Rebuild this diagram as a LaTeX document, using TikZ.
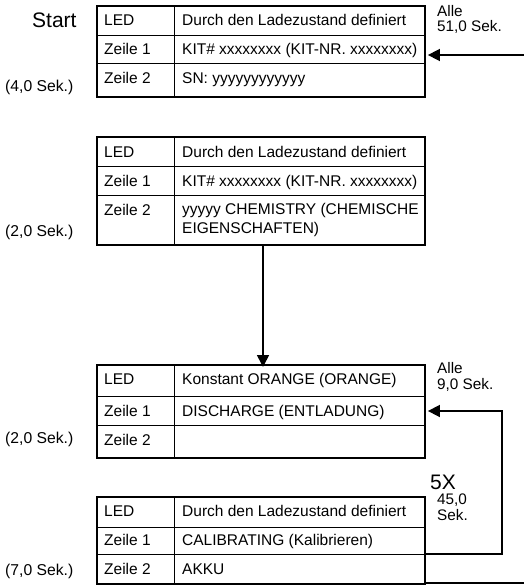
\documentclass[tikz,border=0pt]{standalone}
\usepackage{fontspec}
\setmainfont{Liberation Sans}
\usetikzlibrary{arrows.meta}
\begin{document}
\begin{tikzpicture}[x=1pt,y=-1pt,
  cellL/.style={draw,line width=0.9pt,anchor=north west,inner sep=0pt,minimum width=77pt},
  cellR/.style={draw,line width=0.9pt,anchor=north west,inner sep=0pt,minimum width=250pt},
  txt/.style={anchor=base west,inner sep=0pt,font=\fontsize{15.5}{18.5}\selectfont},
  side/.style={anchor=base west,inner sep=0pt,font=\fontsize{15.7}{18}\selectfont},
  small/.style={anchor=base west,inner sep=0pt,align=left,font=\fontsize{15.3}{15.5}\selectfont},
  big/.style={anchor=base west,inner sep=0pt,font=\fontsize{21}{22}\selectfont},
  frame/.style={line width=1.8pt},
  conn/.style={line width=1.6pt},
  arr/.style={conn,-{Triangle[length=12pt,width=12pt]}}]
\useasboundingbox (0,0) rectangle (524,586);
% table 1
\node[cellL,minimum height=29pt] (t1l1) at (97,6) {};
\node[cellR,minimum height=29pt] (t1r1) at (174,6) {};
\node[cellL,minimum height=28pt] (t1l2) at (97,35) {};
\node[cellR,minimum height=28pt] (t1r2) at (174,35) {};
\node[cellL,minimum height=33pt] (t1l3) at (97,63) {};
\node[cellR,minimum height=33pt] (t1r3) at (174,63) {};
\draw[frame] (t1l1.north west) rectangle (t1r3.south east);
\node[txt] (x1a) at (104,26) {LED};
\node[txt] (x1b) at (182,26) {Durch den Ladezustand definiert};
\node[txt] (x1c) at (104,55) {Zeile 1};
\node[txt] (x1d) at (182,55) {KIT\# xxxxxxxx (KIT-NR. xxxxxxxx)};
\node[txt] (x1e) at (104,84) {Zeile 2};
\node[txt] (x1f) at (182,84) {SN: yyyyyyyyyyyy};
\node[big] (start) at (32,28) {Start};
\node[side] (s1) at (5,91) {(4,0 Sek.)};
\node[small] (a1) at (437,32) {Alle\\51,0 Sek.};
% table 2
\node[cellL,minimum height=29pt] (t2l1) at (97,137) {};
\node[cellR,minimum height=29pt] (t2r1) at (174,137) {};
\node[cellL,minimum height=29pt] (t2l2) at (97,166) {};
\node[cellR,minimum height=29pt] (t2r2) at (174,166) {};
\node[cellL,minimum height=49pt] (t2l3) at (97,195) {};
\node[cellR,minimum height=49pt] (t2r3) at (174,195) {};
\draw[frame] (t2l1.north west) rectangle (t2r3.south east);
\node[txt] (x2a) at (104,157) {LED};
\node[txt] (x2b) at (182,157) {Durch den Ladezustand definiert};
\node[txt] (x2c) at (104,186) {Zeile 1};
\node[txt] (x2d) at (182,186) {KIT\# xxxxxxxx (KIT-NR. xxxxxxxx)};
\node[txt] (x2e) at (104,215) {Zeile 2};
\node[txt,align=left] (x2f) at (182,233) {yyyyy CHEMISTRY (CHEMISCHE\\EIGENSCHAFTEN)};
\node[side] (s2) at (5,236) {(2,0 Sek.)};
% table 3
\node[cellL,minimum height=31pt] (t3l1) at (97,365) {};
\node[cellR,minimum height=31pt] (t3r1) at (174,365) {};
\node[cellL,minimum height=29pt] (t3l2) at (97,396) {};
\node[cellR,minimum height=29pt] (t3r2) at (174,396) {};
\node[cellL,minimum height=32pt] (t3l3) at (97,425) {};
\node[cellR,minimum height=32pt] (t3r3) at (174,425) {};
\draw[frame] (t3l1.north west) rectangle (t3r3.south east);
\node[txt] (x3a) at (104,384) {LED};
\node[txt] (x3b) at (182,384) {Konstant ORANGE (ORANGE)};
\node[txt] (x3c) at (104,416) {Zeile 1};
\node[txt] (x3d) at (182,416) {DISCHARGE (ENTLADUNG)};
\node[txt] (x3e) at (104,445) {Zeile 2};
\node[side] (s3) at (5,443) {(2,0 Sek.)};
\node[small] (a3) at (437,389) {Alle\\9,0 Sek.};
% table 4
\node[cellL,minimum height=30pt] (t4l1) at (97,497) {};
\node[cellR,minimum height=30pt] (t4r1) at (174,497) {};
\node[cellL,minimum height=27pt] (t4l2) at (97,527) {};
\node[cellR,minimum height=27pt] (t4r2) at (174,527) {};
\node[cellL,minimum height=29pt] (t4l3) at (97,554) {};
\node[cellR,minimum height=29pt] (t4r3) at (174,554) {};
\draw[frame] (t4l1.north west) rectangle (t4r3.south east);
\node[txt] (x4a) at (104,516) {LED};
\node[txt] (x4b) at (182,516) {Durch den Ladezustand definiert};
\node[txt] (x4c) at (104,545) {Zeile 1};
\node[txt] (x4d) at (182,545) {CALIBRATING (Kalibrieren)};
\node[txt] (x4e) at (104,574) {Zeile 2};
\node[txt] (x4f) at (182,574) {AKKU};
\node[side] (s4) at (5,575) {(7,0 Sek.)};
\node[big] (five) at (430,489) {5X};
\node[small] (a4) at (437,520) {45,0\\Sek.};
% connectors
\coordinate (e1) at (524,55);
\draw[arr] (e1) -- ([xshift=3pt]e1 -| t1r2.east);
\draw[arr] (t2r3.south west -| 263,0) -- ([yshift=-2pt]t3r1.north west -| 263,0);
\coordinate (c1) at (502,411);
\coordinate (c2) at (502,554);
\draw[arr] (c2 -| t4r3.east) -- (c2) -- (c1) -- ([xshift=3pt]c1 -| t3r2.east);
\coordinate (e2) at (524,583);
\draw[frame] (e2 -| t4r3.east) -- (e2);
\end{tikzpicture}
\end{document}
